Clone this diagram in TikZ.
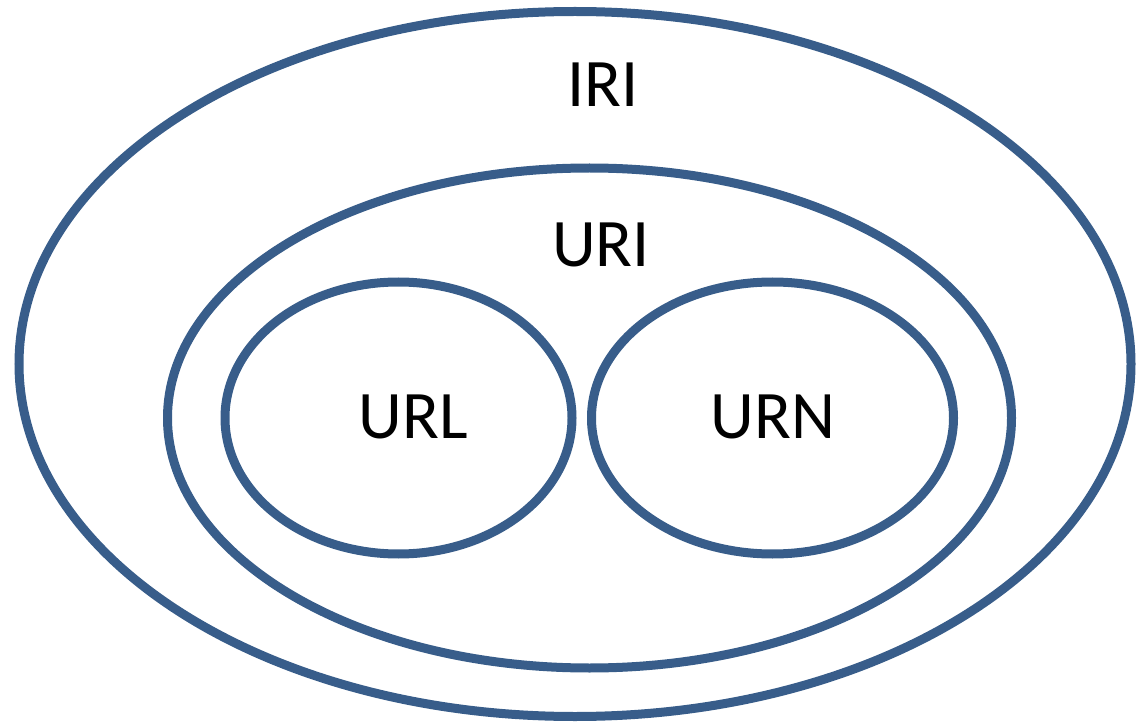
\documentclass[tikz,border=0pt]{standalone}
\usepackage{fontspec}
\setmainfont{Carlito}
\definecolor{ringblue}{HTML}{385D8A}
\begin{document}
\begin{tikzpicture}[x=1pt,y=-1pt,
	ring/.style={draw=ringblue,line width=9pt},
	setname/.style={anchor=base,inner sep=0pt,font=\fontsize{68}{80}\selectfont}]
	\useasboundingbox (0,0) rectangle (1136,722);
	\draw[ring] (575,364) ellipse (556 and 352.5);
	\draw[ring] (589.5,418) ellipse (422 and 250);
	\draw[ring] (398.5,418) ellipse (173.5 and 136);
	\draw[ring] (772.5,418) ellipse (181 and 136);
	\node[setname] (iri) at (603,107) {IRI};
	\node[setname] (uri) at (601,267) {URI};
	\node[setname] (url) at (413,438) {URL};
	\node[setname] (urn) at (773,438) {URN};
\end{tikzpicture}
\end{document}
